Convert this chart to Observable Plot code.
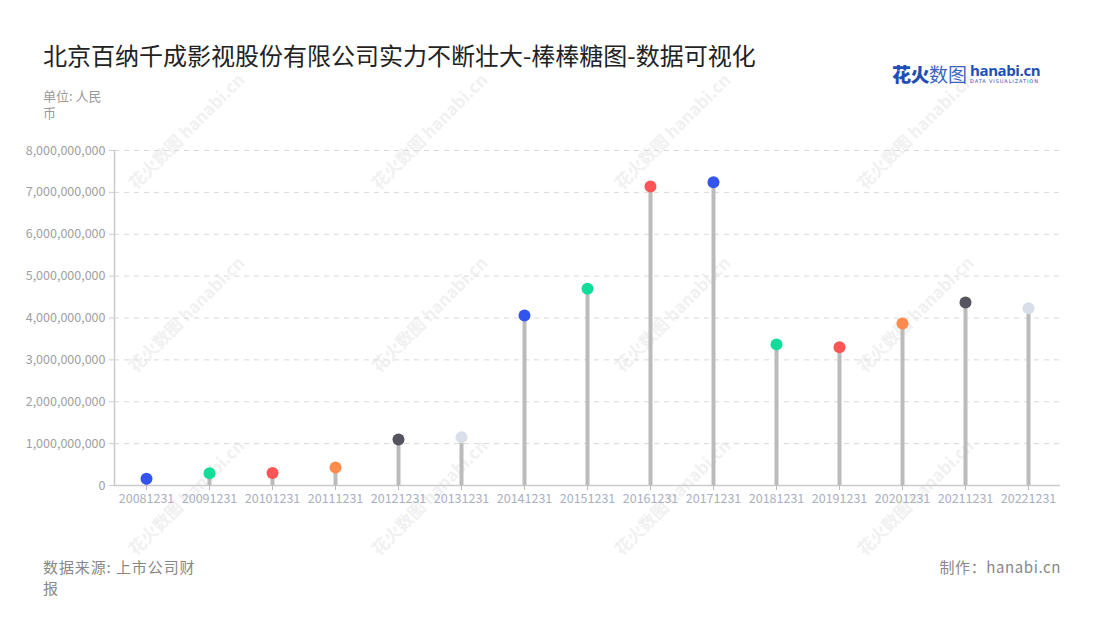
<!DOCTYPE html>
<html>
<head>
<meta charset="utf-8">
<script src="https://cdn.jsdelivr.net/npm/d3@7"></script>
<script src="https://cdn.jsdelivr.net/npm/@observablehq/plot@0.6"></script>
<style>
  html, body { margin: 0; padding: 0; background: #fff; }
  body { font-family: "Noto Sans CJK SC", "Noto Sans", sans-serif; }
  #wrap { position: relative; width: 1100px; height: 620px; overflow: hidden; background: #fff; }
  .abs { position: absolute; white-space: nowrap; }
  #title { left: 43px; top: 38px; font-size: 24px; line-height: 34px; color: #222; }
  #unit { left: 43px; top: 87px; font-size: 13px; line-height: 17px; color: #999; }
  #source { left: 43px; top: 556px; font-size: 15px; line-height: 21px; color: #888; letter-spacing: 0.9px; }
  #maker { right: 39px; top: 556px; font-size: 15px; line-height: 21px; color: #888; letter-spacing: 0.6px; }
  #logo { left: 892px; top: 59px; }
  #chart { position: absolute; left: 0; top: 0; }
  .wm { position: absolute; font-size: 17px; color: #f1f1f1; transform: rotate(-45deg); transform-origin: center; white-space: nowrap; font-weight: bold; pointer-events: none; }
</style>
</head>
<body>
<div id="wrap">
  <div id="wms"></div>
  <div id="chart"></div>
  <div id="title" class="abs">北京百纳千成影视股份有限公司实力不断壮大-棒棒糖图-数据可视化</div>
  <div id="unit" class="abs">单位: 人民<br>币</div>
  <div id="source" class="abs">数据来源: 上市公司财<br>报</div>
  <div id="maker" class="abs">制作：hanabi.cn</div>
  <div id="logo" class="abs">
    <span style="font-size:19px;line-height:24px;font-weight:900;color:#1f4fb5;letter-spacing:-0.5px;vertical-align:middle;">花火</span><span style="font-size:19px;line-height:24px;font-weight:400;color:#3a64c4;vertical-align:middle;">数图</span><span style="display:inline-block;vertical-align:middle;margin-left:3px;">
      <span style="display:block;font-family:'Open Sans',sans-serif;font-size:15px;line-height:15px;font-weight:700;color:#1f4fb5;letter-spacing:-0.4px;">hanabi.cn</span>
      <span style="display:block;font-family:'DejaVu Sans',sans-serif;font-size:5px;line-height:7px;color:#1f4fb5;letter-spacing:0.9px;">DATA VISUALIZATION</span>
    </span>
  </div>
</div>
<script>
const years = ["20081231","20091231","20101231","20111231","20121231","20131231","20141231","20151231","20161231","20171231","20181231","20191231","20201231","20211231","20221231"];
const values = [160000000, 290000000, 300000000, 430000000, 1100000000, 1150000000, 4060000000, 4700000000, 7140000000, 7240000000, 3370000000, 3300000000, 3870000000, 4370000000, 4230000000];
const dotColors = ["#3355ee", "#11dd99", "#ff5555", "#ff8c4c", "#55545f", "#d8dfe8", "#3355ee", "#11dd99", "#ff5555", "#3355ee", "#11dd99", "#ff5555", "#ff8c4c", "#55545f", "#d8dfe8"];
const yTicks = [0, 1000000000, 2000000000, 3000000000, 4000000000, 5000000000, 6000000000, 7000000000, 8000000000];

const data = years.map((y, i) => ({year: y, value: values[i], color: dotColors[i]}));
const fmt = d3.format(",");

const chart = Plot.plot({
  width: 1100,
  height: 620,
  marginTop: 150,
  marginBottom: 135,
  marginLeft: 114,
  marginRight: 40,
  style: {fontFamily: '"Noto Sans CJK SC", "Noto Sans", sans-serif', background: "transparent"},
  x: {type: "point", domain: years, padding: 0.5},
  y: {domain: [0, 8000000000]},
  marks: [
    Plot.gridY(yTicks, {stroke: "#d9d9d9", strokeOpacity: 1, strokeDasharray: "5,5"}),
    Plot.frame({anchor: "left", stroke: "#cccccc", strokeWidth: 1.5}),
    Plot.ruleY([0], {stroke: "#cccccc", strokeWidth: 1.5}),
    Plot.axisY(yTicks, {tickSize: 5, tickPadding: 4, stroke: "#cccccc", fill: "#a0a0a0", fontSize: 12.5, tickFormat: fmt, label: null}),
    Plot.axisX({tickSize: 5, tickPadding: 4, stroke: "#bbbbbb", fill: "#aab0c0", fontSize: 12.5, label: null}),
    Plot.ruleX(data, {x: "year", y1: 0, y2: "value", stroke: "#bbbbbb", strokeWidth: 4}),
    Plot.dot(data, {x: "year", y: "value", r: 6, fill: "color", stroke: null})
  ]
});
document.getElementById("chart").appendChild(chart);

// faint watermarks (behind the chart)
const wmX = [185, 428, 671, 914];
const wmY = [130, 313, 496];
const wms = document.getElementById("wms");
for (const cy of wmY) for (const cx of wmX) {
  const el = document.createElement("div");
  el.className = "wm";
  el.textContent = "花火数图 hanabi.cn";
  wms.appendChild(el);
  const w = el.offsetWidth, h = el.offsetHeight;
  el.style.left = (cx - w / 2) + "px";
  el.style.top = (cy - h / 2) + "px";
}
</script>
</body>
</html>
